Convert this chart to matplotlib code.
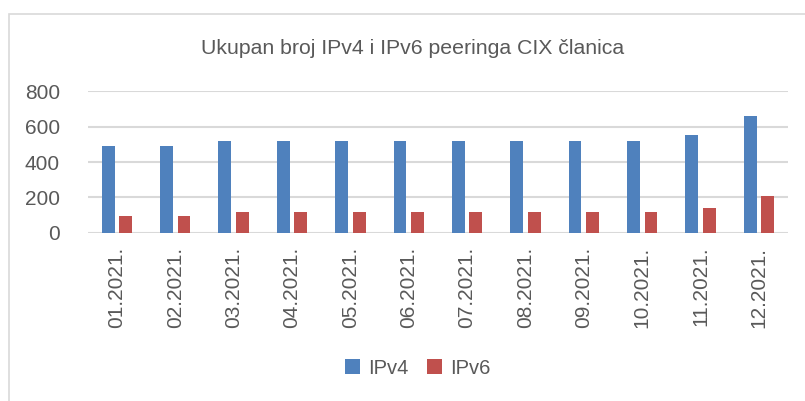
import matplotlib.pyplot as plt
import numpy as np

plt.rcParams['font.family'] = ['Liberation Sans', 'DejaVu Sans']

months = ['01.2021.', '02.2021.', '03.2021.', '04.2021.', '05.2021.', '06.2021.',
          '07.2021.', '08.2021.', '09.2021.', '10.2021.', '11.2021.', '12.2021.']
ipv4 = [490, 490, 521, 521, 521, 520, 521, 521, 521, 521, 553, 662]
ipv6 = [93, 93, 119, 119, 119, 119, 119, 119, 119, 119, 138, 206]

blue = '#4F81BD'
red = '#C0504D'
txt = '#595959'
grid = '#D9D9D9'

fig = plt.figure(figsize=(8.05, 4.01), dpi=100)
ax = fig.add_axes([0.109, 0.419, 0.870, 0.354])

x = np.arange(len(months))
w = 0.22
ax.bar(x - 0.15, ipv4, w, color=blue, label='IPv4', zorder=3)
ax.bar(x + 0.15, ipv6, w, color=red, label='IPv6', zorder=3)

ax.set_xlim(-0.5, len(months) - 0.5)
ax.set_ylim(0, 800)
ax.set_yticks([0, 200, 400, 600, 800])
ax.yaxis.grid(True, color=grid, linewidth=1.5, zorder=0)
ax.set_axisbelow(True)
for s in ax.spines.values():
    s.set_visible(False)
ax.set_xticks(x)
ax.set_xticklabels(months, rotation=90, fontsize=15, color=txt)
ax.tick_params(axis='y', labelsize=15, labelcolor=txt, length=0, pad=20)
ax.tick_params(axis='x', length=0, pad=10)

fig.text(0.512, 0.878, 'Ukupan broj IPv4 i IPv6 peeringa CIX članica',
         ha='center', va='center', fontsize=15.3, color=txt)

fig.legend(loc='center', bbox_to_anchor=(0.519, 0.082), ncol=2, frameon=False,
           fontsize=14.5, labelcolor=txt, handlelength=0.75, handleheight=0.75,
           handletextpad=0.4, columnspacing=0.9)

# chart border
fig.add_artist(plt.Rectangle((9 / 805, -0.1), 1.2, 1 - 14 / 401 + 0.1,
                             transform=fig.transFigure, fill=False,
                             edgecolor=grid, linewidth=1.2))

fig.savefig('out.png', dpi=100)
